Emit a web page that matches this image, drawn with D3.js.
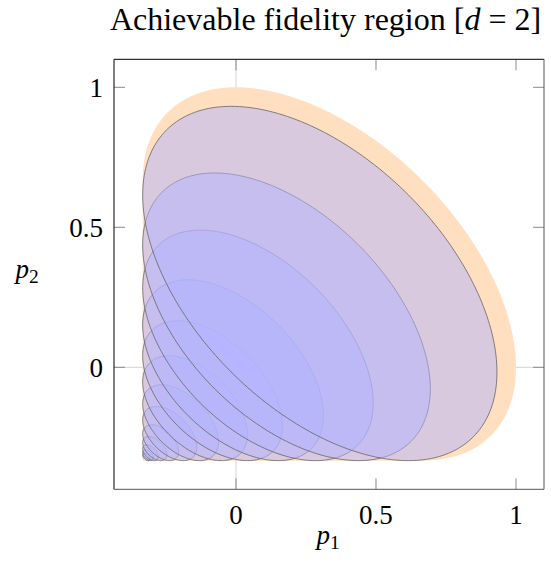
<!DOCTYPE html>
<html>
<head>
<meta charset="utf-8">
<script src="https://cdn.jsdelivr.net/npm/d3@7"></script>
<style>
  html, body { margin: 0; padding: 0; background: #fff; }
  svg { display: block; }
  text { font-family: "Liberation Serif", "DejaVu Serif", serif; fill: #000; }
</style>
</head>
<body>
<svg id="chart" width="551" height="571"></svg>
<script>
// ---- data ----
const titleText = ["Achievable fidelity region [", "d", " = 2]"];
const xLabel = ["p", "1"];
const yLabel = ["p", "2"];
const xDomain = [-0.4357, 1.1];
const yDomain = [-0.4357, 1.1];
const xTicks = [0, 0.5, 1];
const yTicks = [0, 0.5, 1];
const tickLabels = ["0", "0.5", "1"];
const gridValues = [0];
// common lower-left corner of all regions (p1 = p2 = -1/3)
const cornerValue = [-1 / 3];
// outer reach (max p1 = max p2) of the achievable region
const regionReach = [1.0];
// outer reach of each nested ellipse, smallest first
const ellipseReach = [-0.307, -0.295, -0.277, -0.247, -0.205, -0.14, -0.0625, 0.041, 0.166, 0.3125, 0.49, 0.694, 0.932];

// ---- layout ----
const svg = d3.select("#chart");
const plot = { left: 114, right: 544, top: 59.3, bottom: 489.3 };
const x = d3.scaleLinear().domain(xDomain).range([plot.left, plot.right]);
const y = d3.scaleLinear().domain(yDomain).range([plot.bottom, plot.top]);

svg.append("defs").append("clipPath").attr("id", "clip")
  .append("rect").attr("x", plot.left).attr("y", plot.top)
  .attr("width", plot.right - plot.left).attr("height", plot.bottom - plot.top);

// ellipse geometry: tangent to p1 = lo and p2 = lo, symmetric about p1 = p2
function ellipsePoints(lo, hi, n = 240) {
  const w = (hi - lo) / 2, c = lo + w;
  const a = w / Math.SQRT2, b = w * Math.sqrt(1.5);
  const pts = [];
  for (let i = 0; i < n; i++) {
    const t = (i / n) * 2 * Math.PI;
    const px = c + (a * Math.cos(t) - b * Math.sin(t)) / Math.SQRT2;
    const py = c + (a * Math.cos(t) + b * Math.sin(t)) / Math.SQRT2;
    pts.push([px, py]);
  }
  return pts;
}
const line = d3.line().x(d => x(d[0])).y(d => y(d[1])).curve(d3.curveLinearClosed);

const g = svg.append("g").attr("clip-path", "url(#clip)");

// grid lines at 0
g.selectAll(".gx").data(gridValues).join("line")
  .attr("x1", d => x(d)).attr("x2", d => x(d))
  .attr("y1", plot.top).attr("y2", plot.bottom)
  .attr("stroke", "#d4d4d4").attr("stroke-width", 1);
g.selectAll(".gy").data(gridValues).join("line")
  .attr("y1", d => y(d)).attr("y2", d => y(d))
  .attr("x1", plot.left).attr("x2", plot.right)
  .attr("stroke", "#d4d4d4").attr("stroke-width", 1);

// achievable region (orange)
const lo = cornerValue[0];
regionReach.forEach(hi => {
  const w = (hi - lo) / 2, c = lo + w;
  const tangent = c + w / 2;
  g.append("path").attr("d", line(ellipsePoints(lo, hi)))
    .attr("fill", "#ffdfbf").attr("stroke", "none");
  g.append("path").attr("d", line([[lo, lo], [lo, tangent], [tangent, lo]]))
    .attr("fill", "#ffdfbf").attr("stroke", "none");
});

// nested ellipses, smallest first so larger fills overlay smaller outlines
g.selectAll(".ell").data(ellipseReach).join("path")
  .attr("d", d => line(ellipsePoints(lo, d)))
  .attr("fill", "#b3b3ff").attr("fill-opacity", 0.5)
  .attr("stroke", "#666").attr("stroke-width", 0.8);

// ticks (inward, both sides)
const tickLen = 11;
const tg = svg.append("g").attr("stroke", "#8a8a8a").attr("stroke-width", 1);
xTicks.forEach(v => {
  tg.append("line").attr("x1", x(v)).attr("x2", x(v)).attr("y1", plot.bottom).attr("y2", plot.bottom - tickLen);
  tg.append("line").attr("x1", x(v)).attr("x2", x(v)).attr("y1", plot.top).attr("y2", plot.top + tickLen);
});
yTicks.forEach(v => {
  tg.append("line").attr("y1", y(v)).attr("y2", y(v)).attr("x1", plot.left).attr("x2", plot.left + tickLen);
  tg.append("line").attr("y1", y(v)).attr("y2", y(v)).attr("x1", plot.right).attr("x2", plot.right - tickLen);
});

// frame
svg.append("line").attr("x1", plot.left).attr("x2", plot.right).attr("y1", plot.top).attr("y2", plot.top).attr("stroke", "#000").attr("stroke-width", 1);
svg.append("line").attr("x1", plot.left).attr("x2", plot.left).attr("y1", plot.top).attr("y2", plot.bottom).attr("stroke", "#000").attr("stroke-width", 1);
svg.append("line").attr("x1", plot.left).attr("x2", plot.right).attr("y1", plot.bottom).attr("y2", plot.bottom).attr("stroke", "#555").attr("stroke-width", 1);
svg.append("line").attr("x1", plot.right).attr("x2", plot.right).attr("y1", plot.top).attr("y2", plot.bottom).attr("stroke", "#555").attr("stroke-width", 1);

// tick labels
const fs = 27;
svg.selectAll(".xl").data(xTicks).join("text")
  .attr("x", d => x(d)).attr("y", 524)
  .attr("text-anchor", "middle").attr("font-size", fs)
  .text((d, i) => tickLabels[i]);
svg.selectAll(".yl").data(yTicks).join("text")
  .attr("x", plot.left - 11).attr("y", d => y(d) + 9.5)
  .attr("text-anchor", "end").attr("font-size", fs)
  .text((d, i) => tickLabels[i]);

// axis labels
function subLabel(xp, yp, parts) {
  const t = svg.append("text").attr("x", xp).attr("y", yp).attr("text-anchor", "middle").attr("font-size", fs);
  t.append("tspan").attr("font-style", "italic").text(parts[0]);
  t.append("tspan").attr("font-size", fs * 0.72).attr("dy", 5).text(parts[1]);
}
subLabel(328, 544, xLabel);
subLabel(27, 278, yLabel);

// title
const title = svg.append("text").attr("x", 325.5).attr("y", 30)
  .attr("text-anchor", "middle").attr("font-size", 32);
title.append("tspan").text(titleText[0]);
title.append("tspan").attr("font-style", "italic").text(titleText[1]);
title.append("tspan").text(titleText[2]);
</script>
</body>
</html>
